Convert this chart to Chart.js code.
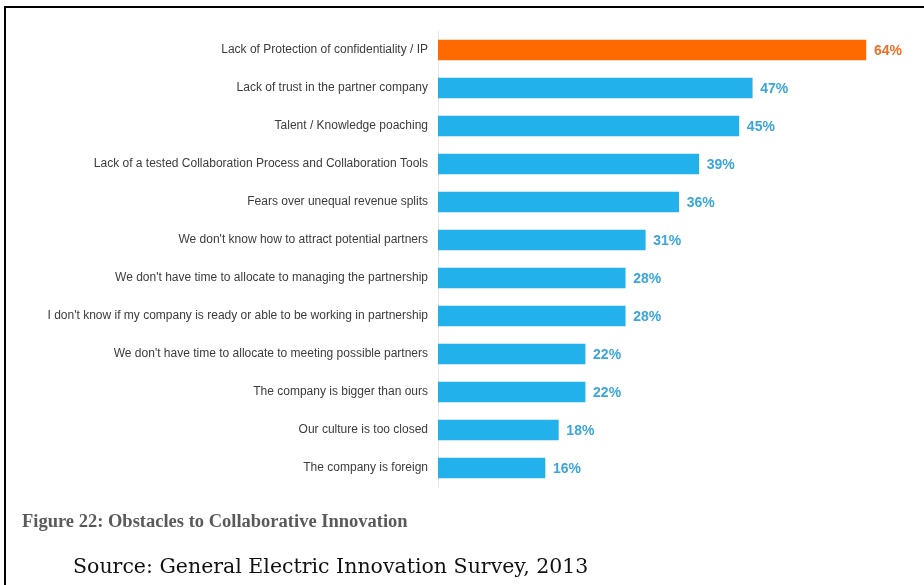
<!DOCTYPE html>
<html>
<head>
<meta charset="utf-8">
<script src="https://cdn.jsdelivr.net/npm/chart.js@4.4.1/dist/chart.umd.min.js"></script>
<style>
  html, body { margin: 0; padding: 0; background: #fff; }
  #frame {
    position: absolute; left: 4px; top: 6px; width: 920px; height: 579px;
    border-left: 2px solid #000; border-top: 2px solid #000;
  }
  #wrap { position: absolute; left: 0; top: 0; width: 924px; height: 585px; }
  #caption {
    position: absolute; left: 22px; top: 511px;
    font-family: "Liberation Serif", serif; font-weight: bold; font-size: 18.5px; color: #5a5a5a;
  }
  #source {
    position: absolute; left: 73px; top: 554px;
    font-family: "DejaVu Serif", serif; font-size: 20.5px; color: #111;
  }
</style>
</head>
<body>
<div id="frame"></div>
<div id="wrap"><canvas id="chart" width="924" height="585"></canvas></div>
<div id="caption">Figure 22: Obstacles to Collaborative Innovation</div>
<div id="source">Source: General Electric Innovation Survey, 2013</div>
<script>
// obstacles, top to bottom as in the figure
const categories = [
  "Lack of Protection of confidentiality / IP",
  "Lack of trust in the partner company",
  "Talent / Knowledge poaching",
  "Lack of a tested Collaboration Process and Collaboration Tools",
  "Fears over unequal revenue splits",
  "We don't know how to attract potential partners",
  "We don't have time to allocate to managing the partnership",
  "I don't know if my company is ready or able to be working in partnership",
  "We don't have time to allocate to meeting possible partners",
  "The company is bigger than ours",
  "Our culture is too closed",
  "The company is foreign"
];
const percentages = [64, 47, 45, 39, 36, 31, 28, 28, 22, 22, 18, 16];

const ORANGE = "#ff6a00";
const BLUE = "#23b1ec";
const barColors = percentages.map((v, i) => i === 0 ? ORANGE : BLUE);
const labelColors = percentages.map((v, i) => i === 0 ? "#ef6f24" : "#3aa6dc");

// value labels next to each bar
const valueLabels = {
  id: "valueLabels",
  afterDatasetsDraw(chart) {
    const ctx = chart.ctx;
    const meta = chart.getDatasetMeta(0);
    ctx.save();
    ctx.font = "bold 14px 'Liberation Sans', sans-serif";
    ctx.textAlign = "left";
    ctx.textBaseline = "middle";
    meta.data.forEach((bar, i) => {
      ctx.fillStyle = labelColors[i];
      ctx.fillText(percentages[i] + "%", bar.x + 8, bar.y + 1);
    });
    ctx.restore();
  }
};

new Chart(document.getElementById("chart"), {
  type: "bar",
  data: {
    labels: categories,
    datasets: [{
      data: percentages,
      backgroundColor: barColors,
      borderWidth: 0,
      barThickness: 20
    }]
  },
  options: {
    indexAxis: "y",
    responsive: false,
    animation: false,
    layout: { padding: { top: 31, bottom: 98, left: 0, right: 18 } },
    plugins: { legend: { display: false }, tooltip: { enabled: false } },
    scales: {
      x: {
        min: 0, max: 70,
        display: false
      },
      y: {
        afterFit(scale) { scale.width = 438; },
        grid: { display: false, drawTicks: false },
        border: { display: true, color: "#e6e6e6", width: 1 },
        ticks: {
          padding: 10,
          color: "#3c3c3c",
          font: { family: "'Liberation Sans', sans-serif", size: 12 }
        }
      }
    }
  },
  plugins: [valueLabels]
});
</script>
</body>
</html>
